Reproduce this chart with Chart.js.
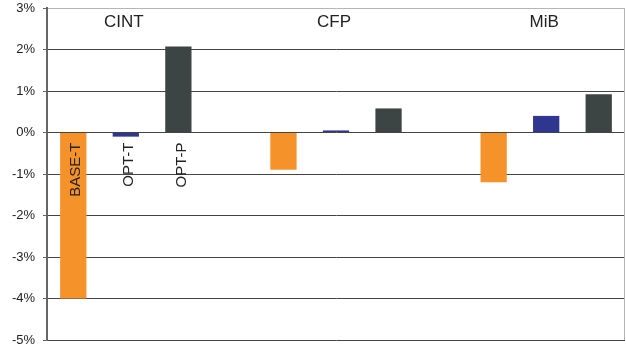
<!DOCTYPE html>
<html>
<head>
<meta charset="utf-8">
<script src="https://cdn.jsdelivr.net/npm/chart.js@4"></script>
<style>
  html, body { margin: 0; padding: 0; background: #fff; }
  #wrap { position: relative; width: 626px; height: 348px; }
</style>
</head>
<body>
<div id="wrap"><canvas id="chart"></canvas></div>
<script>
// Relative change per benchmark suite, in percent
const benchmarks = ['CINT', 'CFP', 'MiB'];
const configs = ['BASE-T', 'OPT-T', 'OPT-P'];
const baseT = [-4.0, -0.9, -1.2];
const optT = [-0.1, 0.05, 0.4];
const optP = [2.07, 0.58, 0.92];
const yTicks = [3, 2, 1, 0, -1, -2, -3, -4, -5];

const configColors = ['#f5932a', '#2e3690', '#3c4543'];
const FONT = "'Liberation Sans', Arial, sans-serif";

// Lay the bars out in slots: three per suite, an empty slot between suites
const slotLabels = [];
const slotValues = [];
const slotColors = [];
const middleSlot = [];
benchmarks.forEach((b, i) => {
    const vals = [baseT[i], optT[i], optP[i]];
    vals.forEach((v, j) => {
        if (j === 1) middleSlot.push(slotLabels.length);
        slotLabels.push(b + ' ' + configs[j]);
        slotValues.push(v);
        slotColors.push(configColors[j]);
    });
    if (i < benchmarks.length - 1) {
        slotLabels.push('');
        slotValues.push(null);
        slotColors.push('transparent');
    }
});

// Suite names above each group, config names under the first group, right frame edge
const annotations = {
    id: 'annotations',
    afterDraw(chart) {
        const ctx = chart.ctx;
        const x = chart.scales.x;
        const y = chart.scales.y;
        const area = chart.chartArea;
        ctx.save();

        ctx.strokeStyle = '#b5b5b5';
        ctx.lineWidth = 1;
        ctx.beginPath();
        ctx.moveTo(area.right - 0.5, area.top);
        ctx.lineTo(area.right - 0.5, area.bottom);
        ctx.stroke();

        ctx.fillStyle = '#222';
        ctx.font = '17px ' + FONT;
        ctx.textAlign = 'center';
        ctx.textBaseline = 'middle';
        benchmarks.forEach((b, i) => {
            ctx.fillText(b, x.getPixelForValue(middleSlot[i]) - 2, 22);
        });

        ctx.font = '15px ' + FONT;
        ctx.textAlign = 'right';
        const zero = y.getPixelForValue(0);
        configs.forEach((c, j) => {
            ctx.save();
            ctx.translate(x.getPixelForValue(j) + 3, zero + 10);
            ctx.rotate(-Math.PI / 2);
            ctx.fillText(c, 0, 0);
            ctx.restore();
        });
        ctx.restore();
    }
};

new Chart(document.getElementById('chart'), {
    type: 'bar',
    data: {
        labels: slotLabels,
        datasets: [{
            data: slotValues,
            backgroundColor: slotColors,
            borderWidth: 0,
            categoryPercentage: 1.0,
            barPercentage: 0.5
        }]
    },
    options: {
        responsive: true,
        maintainAspectRatio: false,
        animation: false,
        layout: { padding: { top: 0, right: 1, bottom: 1, left: 0 } },
        plugins: {
            legend: { display: false },
            tooltip: { enabled: false }
        },
        scales: {
            x: {
                display: false,
                grid: { display: false }
            },
            y: {
                min: yTicks[yTicks.length - 1],
                max: yTicks[0],
                afterFit(scale) {
                    scale.width = 47;
                    scale.paddingTop = 8;
                    scale.paddingBottom = 8;
                },
                afterBuildTicks(scale) {
                    scale.ticks = yTicks.map(v => ({ value: v }));
                },
                border: { color: '#666', width: 2 },
                grid: {
                    color: ctx => ctx.tick && ctx.tick.value === yTicks[0] ? '#b5b5b5' : '#444',
                    lineWidth: 1,
                    tickLength: 4,
                    tickColor: '#666'
                },
                ticks: {
                    padding: 8,
                    color: '#222',
                    font: { family: FONT, size: 13 },
                    callback: v => v + '%'
                }
            }
        }
    },
    plugins: [annotations]
});
</script>
</body>
</html>
